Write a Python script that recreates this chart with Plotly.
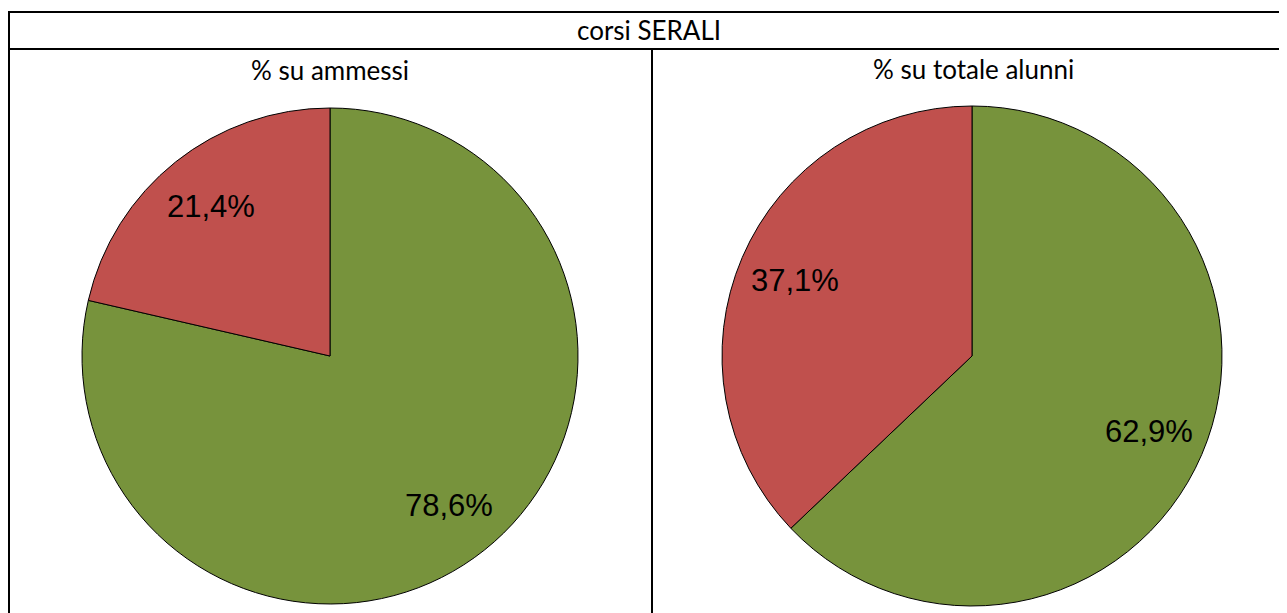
import math
import plotly.graph_objects as go

W, H = 1287, 613
OFF = 8  # page body margin compensation

main_title = "corsi SERALI"
subtitles = ["% su ammessi", "% su totale alunni"]
categories = ["Ammessi/Promossi", "Non ammessi"]
values_ammessi = [78.6, 21.4]
values_totale = [62.9, 37.1]
labels_ammessi = ["78,6%", "21,4%"]
labels_totale = ["62,9%", "37,1%"]
colors = ["#77933C", "#C0504D"]


def px_x(x):
    return (x - OFF) / W


def px_y(y):
    return 1 - (y - OFF) / H


def pie_domain(cx, cy, r):
    return dict(x=[px_x(cx - r), px_x(cx + r)], y=[px_y(cy + r), px_y(cy - r)])


fig = go.Figure()
annotations = []
lfont = dict(family="Liberation Sans, Arial", size=31, color="black")
for vals, labs, (cx, cy, r) in [
    (values_ammessi, labels_ammessi, (330, 356, 248)),
    (values_totale, labels_totale, (972, 356, 250)),
]:
    fig.add_trace(go.Pie(
        labels=categories, values=vals, text=labs,
        textinfo="none",
        sort=False, direction="clockwise", rotation=0,
        marker=dict(colors=colors, line=dict(color="black", width=1)),
        domain=pie_domain(cx, cy, r),
        showlegend=False, hoverinfo="label+text",
    ))
    total = sum(vals)
    start = 0.0
    for v, lab in zip(vals, labs):
        mid = (start + v / 2) / total * 2 * math.pi
        start += v
        lx = cx + 0.77 * r * math.sin(mid)
        ly = cy - 0.77 * r * math.cos(mid)
        annotations.append(dict(text=lab, x=px_x(lx), y=px_y(ly), xref="paper", yref="paper",
                                showarrow=False, font=lfont, xanchor="center", yanchor="middle"))

line = dict(color="black", width=2)
shapes = [
    dict(type="line", xref="paper", yref="paper", x0=px_x(8), x1=1, y0=px_y(12), y1=px_y(12), line=line),
    dict(type="line", xref="paper", yref="paper", x0=px_x(8), x1=1, y0=px_y(49), y1=px_y(49), line=line),
    dict(type="line", xref="paper", yref="paper", x0=px_x(9), x1=px_x(9), y0=px_y(11), y1=0, line=line),
    dict(type="line", xref="paper", yref="paper", x0=px_x(652), x1=px_x(652), y0=px_y(49), y1=0, line=line),
]

tfont = dict(family="Lato, Open Sans, sans-serif", size=26, color="black")
annotations += [
    dict(text=main_title, x=px_x(649), y=px_y(30), xref="paper", yref="paper", showarrow=False, font=tfont, xanchor="center", yanchor="middle"),
    dict(text=subtitles[0], x=px_x(330), y=px_y(70), xref="paper", yref="paper", showarrow=False, font=tfont, xanchor="center", yanchor="middle"),
    dict(text=subtitles[1], x=px_x(973), y=px_y(69), xref="paper", yref="paper", showarrow=False, font=tfont, xanchor="center", yanchor="middle"),
]

fig.update_layout(
    width=W, height=H, margin=dict(l=0, r=0, t=0, b=0),
    paper_bgcolor="white", plot_bgcolor="white",
    shapes=shapes, annotations=annotations,
)
fig.write_html("out.html")
